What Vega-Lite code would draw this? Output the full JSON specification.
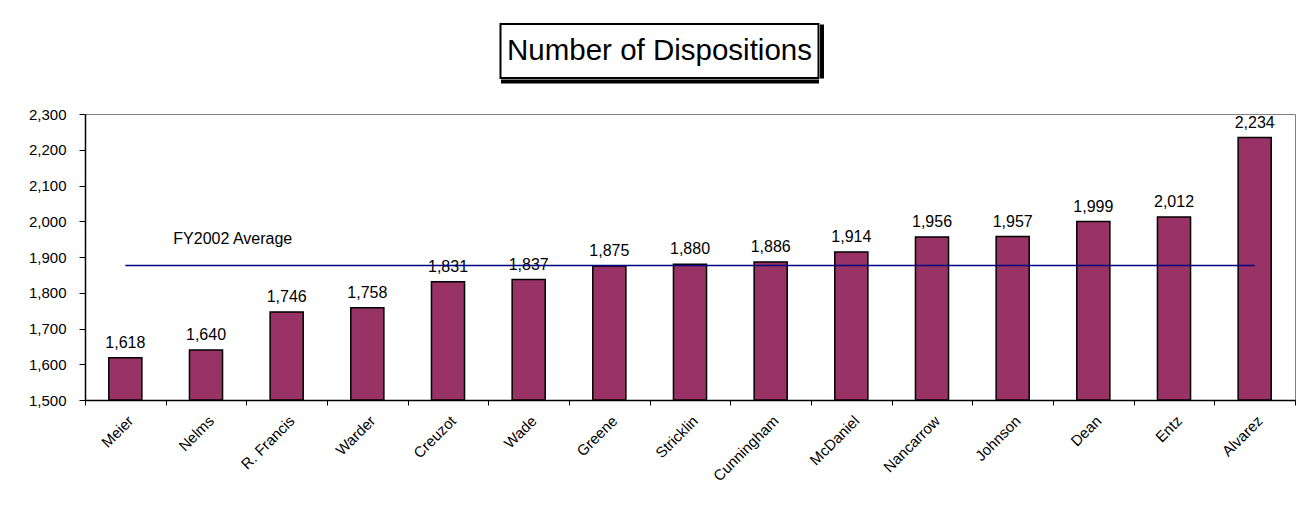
{
  "$schema": "https://vega.github.io/schema/vega-lite/v6.json",
  "padding": {"left": 27, "top": 23, "right": 5, "bottom": 5},
  "background": "white",
  "spacing": 24,
  "center": true,
  "config": {
    "font": "Liberation Sans",
    "view": {"stroke": null},
    "axisX": {
      "tickBand": "extent",
      "labelAngle": -45,
      "labelAlign": "right",
      "labelBaseline": "top",
      "labelFontSize": 15,
      "labelColor": "black",
      "labelPadding": 8,
      "tickSize": 5,
      "tickColor": "black",
      "domainColor": "black",
      "domainWidth": 1.5,
      "tickWidth": 1,
      "grid": false,
      "title": null
    },
    "axisY": {
      "tickCount": 8,
      "labelExpr": "format(datum.value, ',')",
      "labelOverlap": false,
      "labelFlush": false,
      "labelFontSize": 15,
      "labelColor": "black",
      "labelPadding": 13,
      "tickSize": 6,
      "tickColor": "black",
      "domainColor": "black",
      "domainWidth": 1.5,
      "grid": false,
      "title": null
    }
  },
  "vconcat": [
    {
      "width": 318,
      "height": 54,
      "view": {"stroke": "black", "strokeWidth": 2},
      "data": {"values": [{"t": "Number of Dispositions"}]},
      "mark": {"type": "text", "fontSize": 29.5, "color": "black", "baseline": "middle", "align": "center"},
      "encoding": {
        "text": {"field": "t"},
        "x": {"datum": 1, "type": "quantitative", "scale": {"domain": [0, 2]},
              "axis": {"orient": "bottom", "labels": false, "ticks": false, "domain": true, "domainColor": "black", "domainWidth": 4, "offset": 3, "title": null}},
        "y": {"datum": 1, "type": "quantitative", "scale": {"domain": [0, 2]},
              "axis": {"orient": "right", "labels": false, "ticks": false, "domain": true, "domainColor": "black", "domainWidth": 4, "offset": 3, "title": "x", "titleColor": "transparent", "titleFontSize": 20, "titlePadding": 38}}
      }
    },
    {
      "width": 1210,
      "height": 286,
      "view": {"stroke": "#808080", "strokeWidth": 1},
      "data": {"values": [
        {"name": "Meier", "count": 1618, "avg": 1876},
        {"name": "Nelms", "count": 1640, "avg": 1876},
        {"name": "R. Francis", "count": 1746, "avg": 1876},
        {"name": "Warder", "count": 1758, "avg": 1876},
        {"name": "Creuzot", "count": 1831, "avg": 1876},
        {"name": "Wade", "count": 1837, "avg": 1876},
        {"name": "Greene", "count": 1875, "avg": 1876},
        {"name": "Stricklin", "count": 1880, "avg": 1876},
        {"name": "Cunningham", "count": 1886, "avg": 1876},
        {"name": "McDaniel", "count": 1914, "avg": 1876},
        {"name": "Nancarrow", "count": 1956, "avg": 1876},
        {"name": "Johnson", "count": 1957, "avg": 1876},
        {"name": "Dean", "count": 1999, "avg": 1876},
        {"name": "Entz", "count": 2012, "avg": 1876},
        {"name": "Alvarez", "count": 2234, "avg": 1876}
      ]},
      "encoding": {
        "x": {"field": "name", "type": "nominal", "sort": null, "scale": {"paddingInner": 0, "paddingOuter": 0}}
      },
      "layer": [
        {
          "mark": {"type": "bar", "width": {"band": 0.41}, "fill": "#993366", "stroke": "black", "strokeWidth": 1.5},
          "encoding": {
            "y": {"field": "count", "type": "quantitative", "scale": {"domain": [1500, 2300], "nice": false, "zero": false}},
            "y2": {"datum": 1500}
          }
        },
        {
          "mark": {"type": "text", "fontSize": 16, "color": "black", "baseline": "alphabetic", "dy": -10},
          "encoding": {
            "y": {"field": "count", "type": "quantitative"},
            "text": {"field": "count", "type": "quantitative", "format": ","}
          }
        },
        {
          "mark": {"type": "line", "color": "#000080", "strokeWidth": 1.5},
          "encoding": {
            "y": {"field": "avg", "type": "quantitative"}
          }
        },
        {
          "data": {"values": [{"name": "Meier", "pos": 1949, "label": "FY2002 Average"}]},
          "mark": {"type": "text", "fontSize": 16, "color": "black", "align": "left", "baseline": "middle", "dx": 48},
          "encoding": {
            "y": {"field": "pos", "type": "quantitative"},
            "text": {"field": "label"}
          }
        }
      ]
    }
  ]
}
